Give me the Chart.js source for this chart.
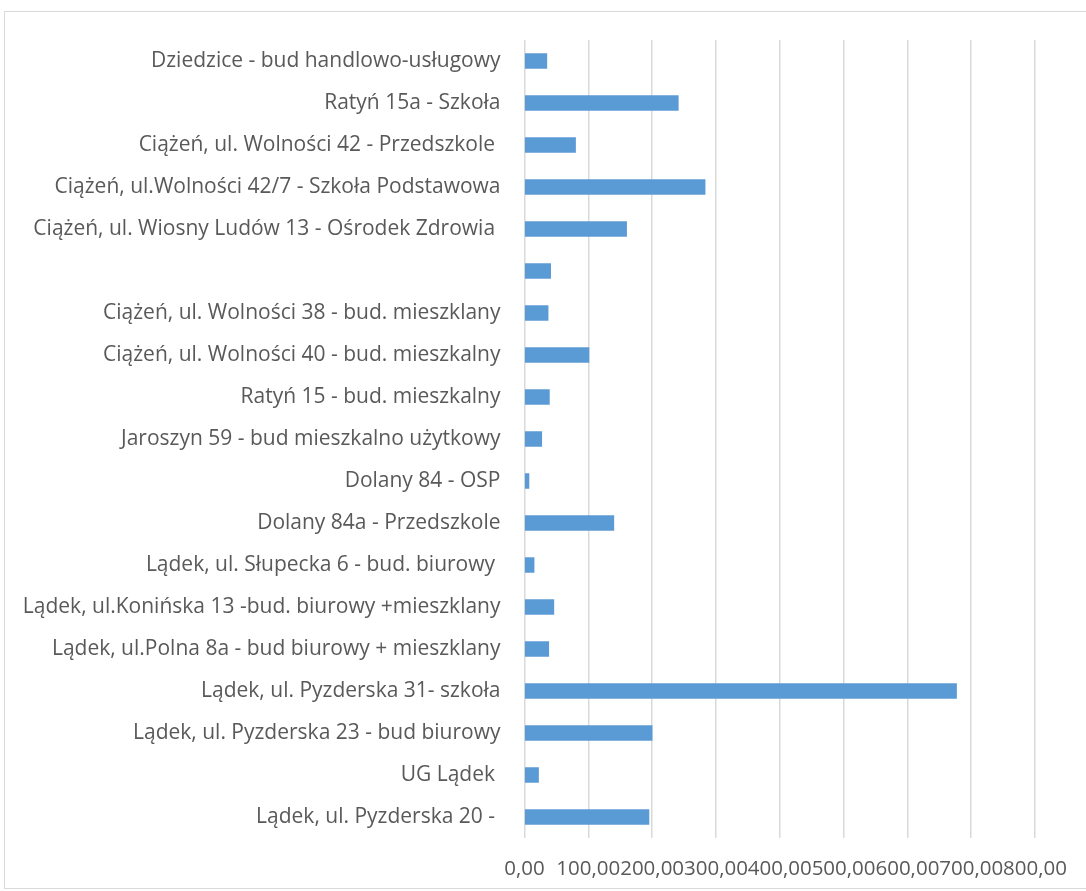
<!DOCTYPE html>
<html>
<head>
<meta charset="utf-8">
<script src="https://cdn.jsdelivr.net/npm/chart.js@4.4.1/dist/chart.umd.min.js"></script>
<style>
    html, body { margin: 0; padding: 0; background: #ffffff; }
    #wrap { width: 1086px; height: 891px; position: relative; }
</style>
</head>
<body>
<div id="wrap"><canvas id="barChart"></canvas></div>
<script>
const categories = [
    'Dziedzice - bud handlowo-usługowy',
    'Ratyń 15a - Szkoła',
    'Ciążeń, ul. Wolności 42 - Przedszkole ',
    'Ciążeń, ul.Wolności 42/7 - Szkoła Podstawowa',
    'Ciążeń, ul. Wiosny Ludów 13 - Ośrodek Zdrowia ',
    '',
    'Ciążeń, ul. Wolności 38 - bud. mieszklany',
    'Ciążeń, ul. Wolności 40 - bud. mieszkalny',
    'Ratyń 15 - bud. mieszkalny',
    'Jaroszyn 59 - bud mieszkalno użytkowy',
    'Dolany 84 - OSP',
    'Dolany 84a - Przedszkole',
    'Lądek, ul. Słupecka 6 - bud. biurowy ',
    'Lądek, ul.Konińska 13 -bud. biurowy +mieszklany',
    'Lądek, ul.Polna 8a - bud biurowy + mieszklany',
    'Lądek, ul. Pyzderska 31- szkoła',
    'Lądek, ul. Pyzderska 23 - bud biurowy',
    'UG Lądek ',
    'Lądek, ul. Pyzderska 20 - '
];

const values = [35, 241, 80, 283, 160, 41, 37, 101, 39, 27, 7, 140, 15, 46, 38, 677, 200, 22, 195];

const axisMin = 0;
const axisMax = 800;
const axisStep = 100;

const formatTick = (v) => v.toFixed(2).replace('.', ',');

// thin frame round the whole chart, like the spreadsheet chart area
const framePlugin = {
    id: 'frame',
    beforeDraw(chart) {
        const ctx = chart.ctx;
        ctx.save();
        ctx.fillStyle = '#ffffff';
        ctx.fillRect(0, 0, chart.width, chart.height);
        ctx.strokeStyle = '#d9d9d9';
        ctx.lineWidth = 1;
        ctx.strokeRect(4.5, 11.5, chart.width + 10, chart.height - 14);
        ctx.restore();
    }
};

const ctx = document.getElementById('barChart').getContext('2d');

new Chart(ctx, {
    type: 'bar',
    data: {
        labels: categories,
        datasets: [{
            data: values,
            backgroundColor: '#5b9bd5',
            borderWidth: 0,
            barThickness: 15
        }]
    },
    options: {
        indexAxis: 'y',
        responsive: true,
        maintainAspectRatio: false,
        animation: false,
        layout: {
            padding: { top: 40, right: 49, bottom: 0, left: 0 }
        },
        plugins: {
            legend: { display: false },
            tooltip: { enabled: false }
        },
        scales: {
            x: {
                min: axisMin,
                max: axisMax,
                grid: {
                    color: '#d9d9d9',
                    lineWidth: 1.5,
                    drawTicks: false
                },
                border: { display: false },
                ticks: {
                    stepSize: axisStep,
                    autoSkip: false,
                    maxRotation: 0,
                    minRotation: 0,
                    padding: 19,
                    color: '#595959',
                    font: { family: 'Open Sans', size: 20.5 },
                    callback: (v) => formatTick(v)
                },
                afterFit: (scale) => { scale.height = 53; }
            },
            y: {
                grid: { display: false, drawTicks: false },
                border: { display: false },
                ticks: {
                    autoSkip: false,
                    padding: 24,
                    color: '#595959',
                    font: { family: 'Open Sans', size: 21 }
                },
                afterFit: (scale) => { scale.width = 524.5; }
            }
        }
    },
    plugins: [framePlugin]
});
</script>
</body>
</html>
